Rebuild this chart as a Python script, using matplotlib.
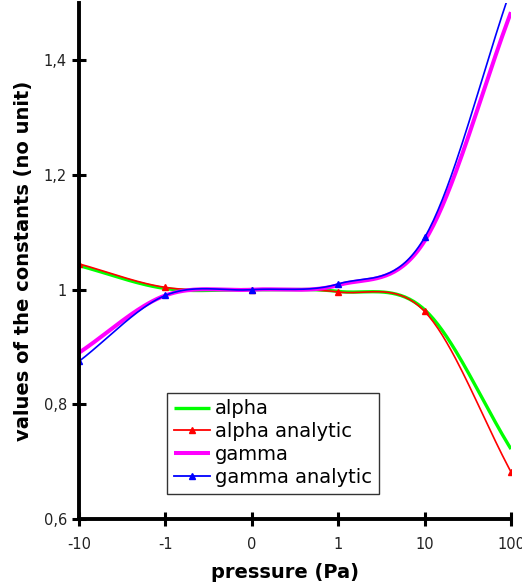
import numpy as np
import matplotlib
matplotlib.use("Agg")
import matplotlib.pyplot as plt

categories = ["-10", "-1", "0", "1", "10", "100"]
alpha = [1.042, 1.002, 1.0, 0.997, 0.965, 0.722]
alpha_analytic = [1.045, 1.004, 1.0, 0.996, 0.962, 0.682]
gamma = [0.89, 0.99, 1.0, 1.008, 1.085, 1.484]
gamma_analytic = [0.875, 0.99, 1.0, 1.01, 1.091, 1.525]
yticks = [0.6, 0.8, 1.0, 1.2, 1.4]
ytick_labels = ["0,6", "0,8", "1", "1,2", "1,4"]


def smooth(y, n=40):
    y = np.asarray(y, float)
    x = np.arange(len(y), dtype=float)
    m = np.zeros_like(y)
    m[1:-1] = (y[2:] - y[:-2]) / 2
    m[0] = y[1] - y[0]
    m[-1] = y[-1] - y[-2]
    xs, ys = [], []
    for i in range(len(y) - 1):
        t = np.linspace(0, 1, n, endpoint=(i == len(y) - 2))
        h00 = 2 * t**3 - 3 * t**2 + 1
        h10 = t**3 - 2 * t**2 + t
        h01 = -2 * t**3 + 3 * t**2
        h11 = t**3 - t**2
        xs.append(x[i] + t)
        ys.append(h00 * y[i] + h10 * m[i] + h01 * y[i + 1] + h11 * m[i + 1])
    return np.concatenate(xs), np.concatenate(ys)


fig = plt.figure(figsize=(5.22, 5.88), dpi=100)
ax = fig.add_axes([79 / 522, 1 - 519 / 588, (511 - 79) / 522, (519 - 3) / 588])

pos = np.arange(len(categories))

xs, ys = smooth(alpha)
l1, = ax.plot(xs, ys, color="#00ff00", lw=2.4, solid_capstyle="butt")
xs, ys = smooth(alpha_analytic)
ax.plot(xs, ys, color="#ff0000", lw=1.2)
ax.plot(pos, alpha_analytic, ls="none", marker="^", color="#ff0000", ms=5)
l2, = ax.plot([], [], color="#ff0000", lw=1.3, marker="^", ms=5)
xs, ys = smooth(gamma)
l3, = ax.plot(xs, ys, color="#ff00ff", lw=2.9, solid_capstyle="butt")
xs, ys = smooth(gamma_analytic)
ax.plot(xs, ys, color="#0000ff", lw=1.2)
ax.plot(pos, gamma_analytic, ls="none", marker="^", color="#0000ff", ms=5)
l4, = ax.plot([], [], color="#0000ff", lw=1.3, marker="^", ms=5)

ax.set_xlim(0, 5)
ax.set_ylim(0.6, 1.5)
ax.set_xticks(pos)
ax.set_xticklabels(categories)
ax.set_yticks(yticks)
ax.set_yticklabels(ytick_labels)

for s in ["top", "right"]:
    ax.spines[s].set_visible(False)
for s in ["left", "bottom"]:
    ax.spines[s].set_linewidth(2.8)
ax.tick_params(direction="inout", length=9.5, width=2.2, labelsize=10.5,
               colors="black", labelcolor="#222222", pad=4)
ax.tick_params(axis="x", pad=8)

ax.set_xlabel("pressure (Pa)", fontsize=14, fontweight="bold")
ax.xaxis.set_label_coords(0.477, -0.085)
ax.set_ylabel("values of the constants (no unit)", fontsize=14, fontweight="bold")
ax.yaxis.set_label_coords(-0.106, 0.5)

leg = ax.legend([l1, l2, l3, l4], ["alpha", "alpha analytic", "gamma", "gamma analytic"],
                loc="upper left", bbox_to_anchor=(0.204, 0.245), fontsize=14,
                frameon=True, fancybox=False, edgecolor="#333333", framealpha=1,
                handlelength=1.85, handletextpad=0.27, labelspacing=0.2,
                borderpad=0.35, borderaxespad=0)
leg.get_frame().set_linewidth(1.0)

fig.savefig("out.png", dpi=100)
